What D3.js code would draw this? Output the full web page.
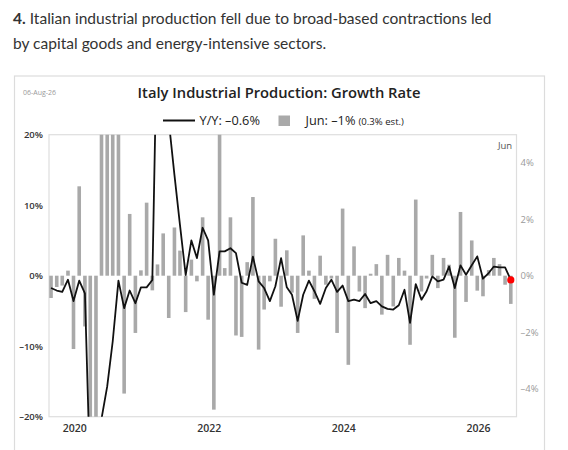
<!DOCTYPE html>
<html>
<head>
<meta charset="utf-8">
<script src="https://cdn.jsdelivr.net/npm/d3@7"></script>
<style>
  html, body { margin: 0; padding: 0; background: #fff; }
  #chart { width: 568px; height: 450px; overflow: hidden; }
</style>
</head>
<body>
<div id="chart"></div>
<script>
// monthly categories: Aug 2019 .. Jun 2026
const firstMonth = new Date(2019, 7, 1);
const endMonth = new Date(2026, 6, 1);

// Y/Y % change (line, left axis)
const yoy = [
  -1.75, -2.1, -2.3, -0.57, -3.6, -0.7, -2.5, -29, -42.5, -20.3,
  -15.7, -9.3, -0.7, -4.6, -2.1, -3.9, -1.65, -1.65, -0.6, 38,
  79, 22, 14.3, 7.2, 0.1, 5.0, 2.5, 6.8, 5.0, -2.7,
  3.45, 3.45, 3.9, 3.2, -1.0, -1.3, 2.7, -0.8, -1.75, -3.6,
  -1.5, 2.5, -1.65, -2.7, -6.4, -2.7, -0.7, -2.2, -4.0, -1.75,
  -0.57, -2.3, -1.4, -3.6, -3.4, -3.6, -2.6, -3.9, -3.6, -4.35,
  -4.7, -4.8, -4.2, -2.0, -6.7, -1.2, -3.4, -2.2, -0.1, -0.8,
  -0.57, 1.3, -1.75, 1.47, 0.14, 1.47, 2.74, -0.43, 0.38, 1.3,
  1.18, 1.18, -0.6
];

// M/M % change (bars, right axis)
const mom = [
  -0.79, -0.4, -0.35, 0.18, -2.6, 3.17, -1.8, -28.4, -19.1, 42.0,
  8.2, 7.4, 7.7, -4.18, 2.19, -2.03, 0.19, 2.59, -0.52, 0.4,
  1.5, -1.5, 1.71, 0.89, -1.29, 0.57, -0.2, 2.07, -1.56, -4.75,
  5.2, 0.27, 2.07, -2.12, -2.17, 0.48, 2.79, -2.62, -1.2, -0.2,
  1.31, -1.1, 0.9, -0.6, -2.03, 1.43, 0.18, -0.82, 0.71, -0.32,
  -0.1, -2.03, 2.38, -3.16, 1.04, -0.56, -1.15, 0.07, 0.41, -1.38,
  0.74, -1.09, 0.63, 0.18, -2.45, 2.7, -0.56, -0.1, 0.74, -0.44,
  0.63, 0.39, -2.2, 2.26, -0.93, 1.25, -0.53, -0.73, 0.2, 0.63,
  0.41, -0.32, -1.0
];

const leftTicks = [-20, -10, 0, 10, 20];
const rightTicks = [-4, -2, 0, 2, 4];
const yearTicks = [2020, 2022, 2024, 2026];

const fmtPct = v => (v < 0 ? "\u2013" + Math.abs(v) : v) + "%";

// scale a text's font size so it spans the given width
const fitWidth = (sel, w) => {
  const len = sel.node().getComputedTextLength();
  const fs = parseFloat(sel.attr("font-size")) * w / len;
  sel.attr("font-size", fs);
  return fs;
};

const createChart = () => {
  const width = 568;
  const height = 450;
  const plot = { left: 49, right: 516.5, top: 134.7, bottom: 416.7 };

  const svg = d3.select("#chart")
    .append("svg")
    .attr("width", width)
    .attr("height", height);

  // heading above the chart
  const head1 = svg.append("text")
    .attr("x", 13)
    .attr("y", 24)
    .attr("font-family", "Lato, 'Open Sans', sans-serif")
    .attr("font-size", 17)
    .style("fill", "#333");
  head1.append("tspan").attr("font-weight", "bold").text("4.");
  head1.append("tspan").text(" Italian industrial production fell due to broad-based contractions led");
  const headSize = fitWidth(head1, 479);

  svg.append("text")
    .attr("x", 13)
    .attr("y", 48.5)
    .attr("font-family", "Lato, 'Open Sans', sans-serif")
    .attr("font-size", headSize)
    .style("fill", "#333")
    .text("by capital goods and energy-intensive sectors.");

  // chart frame
  svg.append("rect")
    .attr("x", 14.5)
    .attr("y", 76)
    .attr("width", 530)
    .attr("height", 400)
    .style("fill", "none")
    .style("stroke", "#dcdcdc")
    .style("stroke-width", 1.2);

  svg.append("text")
    .attr("x", 23)
    .attr("y", 94.5)
    .attr("font-family", "'Open Sans', sans-serif")
    .attr("font-size", 7)
    .style("fill", "#9a9a9a")
    .text("06-Aug-26");

  const title = svg.append("text")
    .attr("x", 279)
    .attr("y", 97.5)
    .attr("text-anchor", "middle")
    .attr("font-family", "'Open Sans', sans-serif")
    .attr("font-weight", 600)
    .attr("font-size", 15)
    .style("fill", "#222")
    .text("Italy Industrial Production: Growth Rate");
  fitWidth(title, 283);

  // legend
  const legend = svg.append("g").attr("font-family", "'Open Sans', sans-serif");
  legend.append("line")
    .attr("x1", 163).attr("x2", 195)
    .attr("y1", 120.5).attr("y2", 120.5)
    .style("stroke", "#111")
    .style("stroke-width", 2);
  const lg1 = legend.append("text")
    .attr("x", 199.5)
    .attr("y", 124.5)
    .attr("font-size", 11.5)
    .style("fill", "#222")
    .text("Y/Y: \u20130.6%");
  const legSize = fitWidth(lg1, 60.5);
  legend.append("rect")
    .attr("x", 278.5).attr("y", 115.5)
    .attr("width", 11.5).attr("height", 10.5)
    .style("fill", "#a9a9a9");
  legend.append("text")
    .attr("x", 305.5)
    .attr("y", 124.5)
    .attr("font-size", legSize)
    .style("fill", "#222")
    .text("Jun: \u20131%");
  const lg3 = legend.append("text")
    .attr("x", 358.5)
    .attr("y", 124.5)
    .attr("font-size", 8.5)
    .style("fill", "#222")
    .text("(0.3% est.)");
  fitWidth(lg3, 45.5);

  // scales
  const x = d3.scaleTime()
    .domain([new Date(2019, 7, 4), new Date(2026, 6, 16)])
    .range([plot.left, plot.right]);
  const yL = d3.scaleLinear().domain([-20, 20]).range([plot.bottom, plot.top]);
  const yR = d3.scaleLinear().domain([-5, 5]).range([plot.bottom, plot.top]);

  const months = d3.timeMonth.range(firstMonth, endMonth)
    .map(d => new Date(d.getFullYear(), d.getMonth(), 15));
  const data = months.map((d, i) => ({ date: d, yoy: yoy[i], mom: mom[i] }));

  svg.append("clipPath")
    .attr("id", "plot-clip")
    .append("rect")
    .attr("x", plot.left)
    .attr("y", plot.top)
    .attr("width", plot.right - plot.left)
    .attr("height", plot.bottom - plot.top);

  svg.append("rect")
    .attr("x", plot.left)
    .attr("y", plot.top)
    .attr("width", plot.right - plot.left)
    .attr("height", plot.bottom - plot.top)
    .style("fill", "none")
    .style("stroke", "#dedede")
    .style("stroke-width", 1.2);

  const barW = 3.6;
  svg.append("g")
    .attr("clip-path", "url(#plot-clip)")
    .selectAll("rect")
    .data(data)
    .join("rect")
    .attr("x", d => x(d.date) - barW / 2)
    .attr("width", barW)
    .attr("y", d => Math.min(yR(d.mom), yR(0)))
    .attr("height", d => Math.abs(yR(d.mom) - yR(0)))
    .style("fill", "#a9a9a9");

  const line = d3.line()
    .x(d => x(d.date))
    .y(d => yL(d.yoy));

  svg.append("path")
    .datum(data)
    .attr("clip-path", "url(#plot-clip)")
    .attr("d", line)
    .style("fill", "none")
    .style("stroke", "#111")
    .style("stroke-width", 1.8)
    .style("stroke-linejoin", "round");

  const last = data[data.length - 1];
  svg.append("circle")
    .attr("cx", x(last.date))
    .attr("cy", yL(last.yoy))
    .attr("r", 3.6)
    .style("fill", "#f00");

  svg.append("text")
    .attr("x", 505)
    .attr("y", 148.5)
    .attr("text-anchor", "middle")
    .attr("font-family", "'Open Sans', sans-serif")
    .attr("font-size", 9.5)
    .style("fill", "#555")
    .text("Jun");

  // axes
  const axisL = svg.append("g")
    .attr("transform", `translate(${plot.left - 3},0)`)
    .call(d3.axisLeft(yL).tickValues(leftTicks).tickSize(0).tickFormat(fmtPct));
  axisL.select(".domain").remove();
  axisL.selectAll("text")
    .attr("font-family", "'Open Sans', sans-serif")
    .attr("font-size", 9.5)
    .attr("font-weight", 600)
    .style("fill", "#333");

  const axisR = svg.append("g")
    .attr("transform", `translate(${plot.right + 1},0)`)
    .call(d3.axisRight(yR).tickValues(rightTicks).tickSize(0).tickFormat(fmtPct));
  axisR.select(".domain").remove();
  axisR.selectAll("text")
    .attr("font-family", "'Open Sans', sans-serif")
    .attr("font-size", 9.5)
    .style("fill", "#9a9a9a");

  const axisB = svg.append("g")
    .attr("transform", `translate(-2.5,${plot.bottom + 5})`)
    .call(d3.axisBottom(x).tickValues(yearTicks.map(yr => new Date(yr, 0, 1))).tickSize(0).tickFormat(d3.timeFormat("%Y")));
  axisB.select(".domain").remove();
  axisB.selectAll("text")
    .attr("font-family", "'Open Sans', sans-serif")
    .attr("font-size", 10.5)
    .attr("font-weight", 600)
    .style("fill", "#333");
};

document.addEventListener("DOMContentLoaded", createChart);
</script>
</body>
</html>
